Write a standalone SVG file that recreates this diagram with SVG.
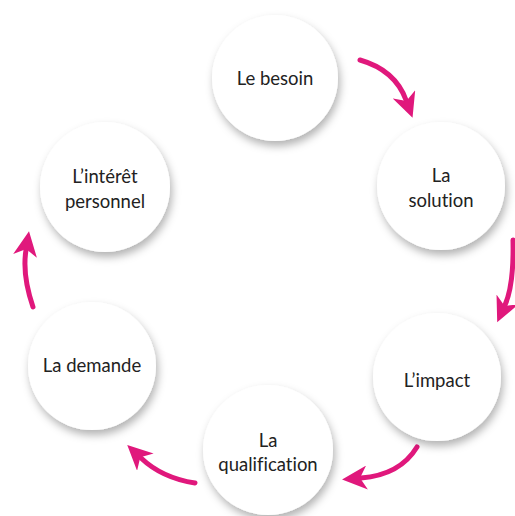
<svg xmlns="http://www.w3.org/2000/svg" width="515" height="516" viewBox="0 0 515 516">
<defs>
<filter id="sh" x="-30%" y="-30%" width="160%" height="170%">
<feDropShadow dx="2" dy="5" stdDeviation="4" flood-color="#000" flood-opacity="0.3"/>
</filter>
<marker id="ah" markerUnits="userSpaceOnUse" markerWidth="26" markerHeight="24" viewBox="0 0 26 24" refX="6" refY="12" orient="auto">
<path d="M0,0 L25,12 L0,24 L7,12 z" fill="#e0187c"/>
</marker>
<style>
.n circle{fill:#fff;filter:url(#sh)}
.n text{font-family:"Lato","Liberation Sans",sans-serif;font-size:18.5px;fill:#222;text-anchor:middle;font-variant-ligatures:none}
.c path{fill:none;stroke:#e0187c;stroke-width:5;stroke-linecap:round;marker-end:url(#ah)}
</style>
</defs>
<rect width="515" height="516" fill="#fff"/>
<g class="c" id="connectors">
<path d="M360,60 Q395,70 406,100"/>
<path d="M513,240 Q514,285 505,305"/>
<path d="M417,447 Q400,475 361,478"/>
<path d="M195,483 Q162,478 141,458"/>
<path d="M33,307 Q22,275 26,250"/>
</g>
<g class="n" id="besoin"><circle cx="275" cy="78" r="63"/><text x="275" y="85">Le besoin</text></g>
<g class="n" id="solution"><circle cx="441" cy="186" r="64"/><text x="441" y="182">La</text><text x="441" y="207">solution</text></g>
<g class="n" id="impact"><circle cx="437" cy="377" r="64"/><text x="437" y="387">L’impact</text></g>
<g class="n" id="qualification"><circle cx="268" cy="450" r="65"/><text x="268" y="447">La</text><text x="268" y="471">qualification</text></g>
<g class="n" id="demande"><circle cx="92" cy="366" r="64"/><text x="92" y="372">La demande</text></g>
<g class="n" id="interet"><circle cx="105" cy="187" r="65"/><text x="105" y="183">L’intérêt</text><text x="105" y="208">personnel</text></g>
</svg>
